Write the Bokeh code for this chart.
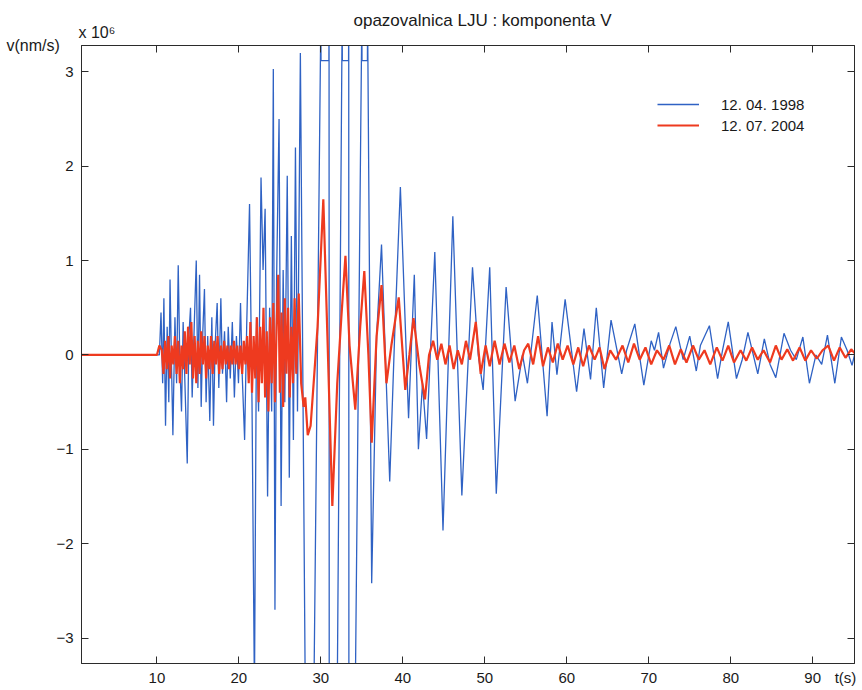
from bokeh.plotting import figure
from bokeh.models import (Range1d, LinearAxis, FixedTicker, CustomJSTickFormatter,
                          Label, Legend, LegendItem, ColumnDataSource)
from bokeh.embed import file_html
from bokeh.resources import INLINE

# ---------------- data (v in units of 10^6 nm/s, t in s) ----------------
title_text = "opazovalnica LJU  :  komponenta V"
y_label = "v(nm/s)"
y_scale_label = "x 10\u2076"
x_label = "t(s)"
series_labels = ["12. 04. 1998", "12. 07. 2004"]
x_ticks = [10, 20, 30, 40, 50, 60, 70, 80, 90]
x_label_pos = 94.0
y_ticks = [-3, -2, -1, 0, 1, 2, 3]

t_1998 = [0.8, 10.3, 10.5, 10.7, 10.85, 11.05, 11.25, 11.45, 11.6, 11.8, 11.95, 12.2, 12.4, 12.6,
          12.8, 13.0, 13.2, 13.45, 13.7, 13.9, 14.1, 14.3, 14.55, 14.8, 15.0, 15.2, 15.4, 15.6,
          15.8, 16.0, 16.2, 16.45, 16.7, 16.9, 17.1, 17.35, 17.55, 17.8, 18.0, 18.25, 18.5, 18.7,
          18.95, 19.2, 19.45, 19.7, 19.95, 20.2, 20.4, 20.7, 20.95, 21.3, 21.6, 21.9, 22.15, 22.4,
          22.7, 22.95, 23.2, 23.5, 23.75, 24.0, 24.2, 24.4, 24.6, 24.9, 25.15, 25.4, 25.6, 25.9,
          26.15, 26.4, 26.65, 26.9, 27.15, 27.5, 28.1, 29.15, 30.0, 30.02, 30.98, 31.0, 31.02, 32.0,
          32.6, 32.62, 33.38, 33.4, 33.42, 34.2, 35.0, 35.02, 35.68, 35.7, 36.2, 36.8, 37.4, 38.4,
          39.0, 39.7, 40.7, 41.4, 41.9, 42.4, 42.9, 43.9, 44.9, 46.1, 47.2, 48.5, 49.2, 49.8, 50.6,
          51.4, 52.6, 53.7, 54.6, 55.2, 56.4, 57.6, 58.2, 58.8, 59.8, 61.2, 62.1, 62.9, 63.6, 64.5,
          65.4, 66.7, 67.3, 68.3, 69.4, 70.3, 70.7, 71.2, 71.8, 72.6, 73.3, 74.2, 75.0, 75.8, 76.3,
          77.4, 78.4, 79.0, 79.7, 80.7, 81.4, 82.1, 83.3, 84.1, 84.8, 85.5, 86.5, 87.3, 88.0, 88.8,
          89.6, 90.4, 91.1, 91.8, 92.7, 93.5, 94.2, 94.8, 95.1]
v_1998 = [0.0, 0.0, 0.45, -0.3, 0.6, -0.75, 0.3, -0.5, 0.8, -0.2, -0.85, 0.4, -0.3, 0.95,
          -0.1, -0.6, 0.35, -0.4, -1.15, 0.2, 0.5, -0.45, 0.3, 1.0, -0.35, 0.85, -0.55, 0.25,
          0.7, -0.5, 0.2, -0.7, 0.4, -0.75, 0.1, 0.55, -0.35, 0.6, -0.2, 0.25, -0.5, 0.3,
          -0.25, 0.35, -0.45, 0.2, -0.3, 0.55, -0.2, -0.9, 0.3, 1.6, -0.5, -3.6, 0.4, -0.6,
          1.88, 0.9, 1.55, -1.5, 0.5, -0.6, 3.03, -2.7, 0.8, 2.5, -1.6, 0.9, -0.5, 1.9,
          -1.3, 1.26, -0.9, 2.2, -0.6, 3.2, -3.6, -3.6, 3.6, 3.12, 3.12, 3.6, -3.6, -3.6,
          3.6, 3.12, 3.12, 3.6, -3.6, -3.6, 3.6, 3.12, 3.12, 3.6, -2.42, 0.2, 1.17, -1.34,
          0.2, 1.78, -0.67, 0.85, -1.0, -0.3, -0.89, 1.09, -1.86, 1.47, -1.49, 0.93, 0.0, -0.37, 0.93,
          -1.47, 0.72, -0.49, 0.0, -0.3, 0.63, -0.65, 0.35, -0.21, 0.59, -0.39, 0.28, -0.26, 0.5, -0.35,
          0.37, -0.2, 0.05, 0.33, -0.32, 0.15, 0.05, 0.24, -0.14, 0.12, 0.3, -0.05, 0.2, -0.17, 0.1,
          0.31, -0.25, 0.05, 0.35, -0.25, -0.05, 0.24, -0.2, 0.17, -0.1, -0.24, 0.23, 0.05, -0.05, 0.19,
          -0.3, 0.0, -0.1, 0.21, -0.3, 0.19, 0.05, -0.11, 0.0]

t_2004 = [0.8, 10.0, 10.3, 10.6, 10.8, 11.0, 11.2, 11.4, 11.6, 11.8, 12.0, 12.2, 12.4, 12.6,
          12.8, 13.0, 13.2, 13.4, 13.6, 13.8, 14.0, 14.2, 14.4, 14.6, 14.8, 15.0, 15.2, 15.4,
          15.6, 15.8, 16.0, 16.2, 16.4, 16.6, 16.8, 17.0, 17.2, 17.4, 17.6, 17.8, 18.0, 18.2,
          18.4, 18.6, 18.8, 19.0, 19.2, 19.4, 19.6, 19.8, 20.0, 20.2, 20.4, 20.6, 20.8, 21.0,
          21.2, 21.4, 21.6, 21.8, 22.0, 22.2, 22.4, 22.6, 22.8, 23.0, 23.2, 23.4, 23.6, 23.8,
          24.0, 24.2, 24.4, 24.6, 24.8, 25.0, 25.2, 25.4, 25.6, 25.8, 26.0, 26.2, 26.4, 26.6,
          26.8, 27.0, 27.3, 27.6, 27.9, 28.1, 28.4, 28.75, 29.2, 29.6, 30.3, 30.8, 31.4, 32.0,
          32.5, 33.0, 33.5, 34.2, 34.8, 35.3, 35.8, 36.2, 36.8, 37.4, 38.0, 38.6, 39.5, 40.3,
          40.8, 41.3, 42.0, 42.7, 43.2, 43.7, 44.2, 44.7, 45.2, 45.7, 46.2, 46.7, 47.2, 47.7,
          48.2, 48.9, 49.5, 50.1, 50.6, 51.2, 51.8, 52.4, 53.0, 53.6, 54.2, 54.8, 55.3, 55.9,
          56.5, 57.1, 57.7, 58.3, 58.9, 59.5, 60.1, 60.8, 61.4, 62.0, 62.7, 63.4, 64.0, 64.6,
          65.3, 66.0, 66.8, 67.5, 68.2, 68.9, 69.6, 70.3, 71.0, 71.8, 72.5, 73.2, 73.9, 74.6,
          75.4, 76.1, 76.8, 77.5, 78.3, 79.0, 79.7, 80.4, 81.2, 81.9, 82.6, 83.3, 84.0, 84.8,
          85.5, 86.2, 86.9, 87.6, 88.4, 89.1, 89.8, 90.5, 91.2, 91.9, 92.6, 93.3, 94.0, 94.7,
          95.1]
v_2004 = [0.0, 0.0, 0.1, 0.05, -0.2, 0.15, -0.15, 0.2, -0.25, 0.1, -0.1, 0.2, -0.2, 0.15,
          -0.3, 0.1, -0.15, 0.25, -0.2, 0.3, -0.1, 0.35, -0.25, 0.2, -0.3, 0.15, -0.2, 0.25,
          -0.1, 0.2, -0.25, 0.1, -0.15, 0.2, -0.2, 0.15, -0.1, 0.2, -0.2, 0.1, -0.15, 0.15,
          -0.1, 0.1, -0.15, 0.1, -0.1, 0.15, -0.1, 0.1, -0.15, 0.1, -0.2, 0.15, -0.1, 0.2,
          -0.3, 0.35, -0.4, 0.2, -0.25, 0.4, -0.5, 0.3, -0.3, 0.5, -0.45, 0.25, -0.6, 0.4,
          -0.3, 0.55, -0.5, 0.3, 0.85, -0.4, 0.45, -0.55, 0.6, -0.2, 0.5, -0.45, 0.3, -0.3,
          0.6, -0.2, 0.65, -0.3, -0.55, -0.45, -0.85, -0.75, -0.2, 0.3, 1.65, 0.2, -1.6, -0.3,
          0.4, 1.05, 0.1, -0.58, 0.3, 0.89, 0.0, -0.93, 0.2, 0.74, -0.3, 0.1, 0.61, -0.37,
          0.0, 0.39, -0.1, -0.47, 0.0, 0.15, -0.05, 0.12, -0.1, 0.1, -0.15, 0.05, -0.1, 0.15,
          -0.05, 0.35, -0.2, 0.1, -0.12, 0.15, -0.1, 0.12, -0.08, 0.1, -0.15, 0.05, 0.12, -0.1,
          0.2, -0.12, 0.08, -0.08, 0.12, -0.05, 0.1, -0.1, 0.08, -0.12, 0.1, -0.05, 0.08, -0.15,
          0.05, -0.05, 0.1, -0.08, 0.12, -0.05, 0.08, -0.1, 0.05, -0.05, 0.1, -0.1, 0.06, -0.08,
          0.1, -0.05, 0.05, -0.1, 0.08, -0.06, 0.1, -0.08, 0.05, -0.06, 0.08, -0.05, 0.05, -0.08,
          0.1, -0.05, 0.06, -0.06, 0.08, -0.06, 0.05, -0.04, 0.05, 0.1, -0.06, 0.08, -0.03, 0.06,
          0.02]

# ---------------- figure ----------------
FONT = "Liberation Sans"
AX = "#2b2b2b"
TXT = "#1a1a1a"
BLUE = "#2f62c4"
RED = "#ee3a1f"

p = figure(width=860, height=688, x_range=Range1d(0.8, 95.1), y_range=Range1d(-3.27, 3.28),
           output_backend="svg", toolbar_location=None, x_axis_type=None, y_axis_type=None,
           min_border_left=78, min_border_right=6, min_border_top=45, min_border_bottom=25)
p.outline_line_color = AX
p.background_fill_color = "white"
p.border_fill_color = "white"

blank = CustomJSTickFormatter(code="return ''")


def base_axis(ticks):
    ax = LinearAxis(ticker=FixedTicker(ticks=ticks))
    ax.major_tick_in = 7
    ax.major_tick_out = 0
    ax.minor_tick_line_color = None
    ax.axis_line_color = AX
    ax.major_tick_line_color = AX
    ax.major_label_text_font = FONT
    ax.major_label_text_font_size = "15px"
    ax.major_label_text_color = TXT
    return ax


# tick marks only (bottom, top, right)
bottom_ticks = base_axis(x_ticks)
bottom_ticks.formatter = blank
bottom_ticks.major_label_standoff = 0
p.add_layout(bottom_ticks, "below")

# bottom tick labels (plus the axis name "t(s)" next to 90), no marks
bottom_labels = base_axis(x_ticks + [x_label_pos])
bottom_labels.major_tick_line_color = None
bottom_labels.axis_line_color = None
bottom_labels.major_label_standoff = 5
bottom_labels.major_label_overrides = {x_label_pos: x_label}
p.add_layout(bottom_labels, "below")

left_axis = base_axis(y_ticks)
left_axis.major_label_standoff = 8
p.add_layout(left_axis, "left")

top_axis = base_axis(x_ticks)
top_axis.formatter = blank
top_axis.major_label_standoff = 0
p.add_layout(top_axis, "above")

right_axis = base_axis(y_ticks)
right_axis.formatter = blank
right_axis.major_label_standoff = 0
p.add_layout(right_axis, "right")

src98 = ColumnDataSource(dict(t=t_1998, v=v_1998))
src04 = ColumnDataSource(dict(t=t_2004, v=v_2004))
r98 = p.line("t", "v", source=src98, line_color=BLUE, line_width=1.3)
r04 = p.line("t", "v", source=src04, line_color=RED, line_width=2.2)

legend = Legend(items=[LegendItem(label=series_labels[0], renderers=[r98]),
                       LegendItem(label=series_labels[1], renderers=[r04])],
                location=(576, 528), padding=0, margin=0, spacing=1,
                glyph_width=42, glyph_height=20, label_height=20, label_standoff=22,
                label_text_font=FONT, label_text_font_size="15px", label_text_color=TXT,
                border_line_alpha=0, background_fill_alpha=0)
p.add_layout(legend, "center")


def lab(x, y, text, size, side):
    p.add_layout(Label(x=x, y=y, x_units="screen", y_units="screen", text=text,
                       text_font=FONT, text_font_size=size, text_color=TXT,
                       text_baseline="alphabetic", text_align="left"), side)


lab(272, 25, title_text, "17px", "above")
lab(-3, -6, y_scale_label, "16px", "above")
lab(6, 618, y_label, "16px", "left")

open("out.html", "w").write(file_html(p, INLINE))
